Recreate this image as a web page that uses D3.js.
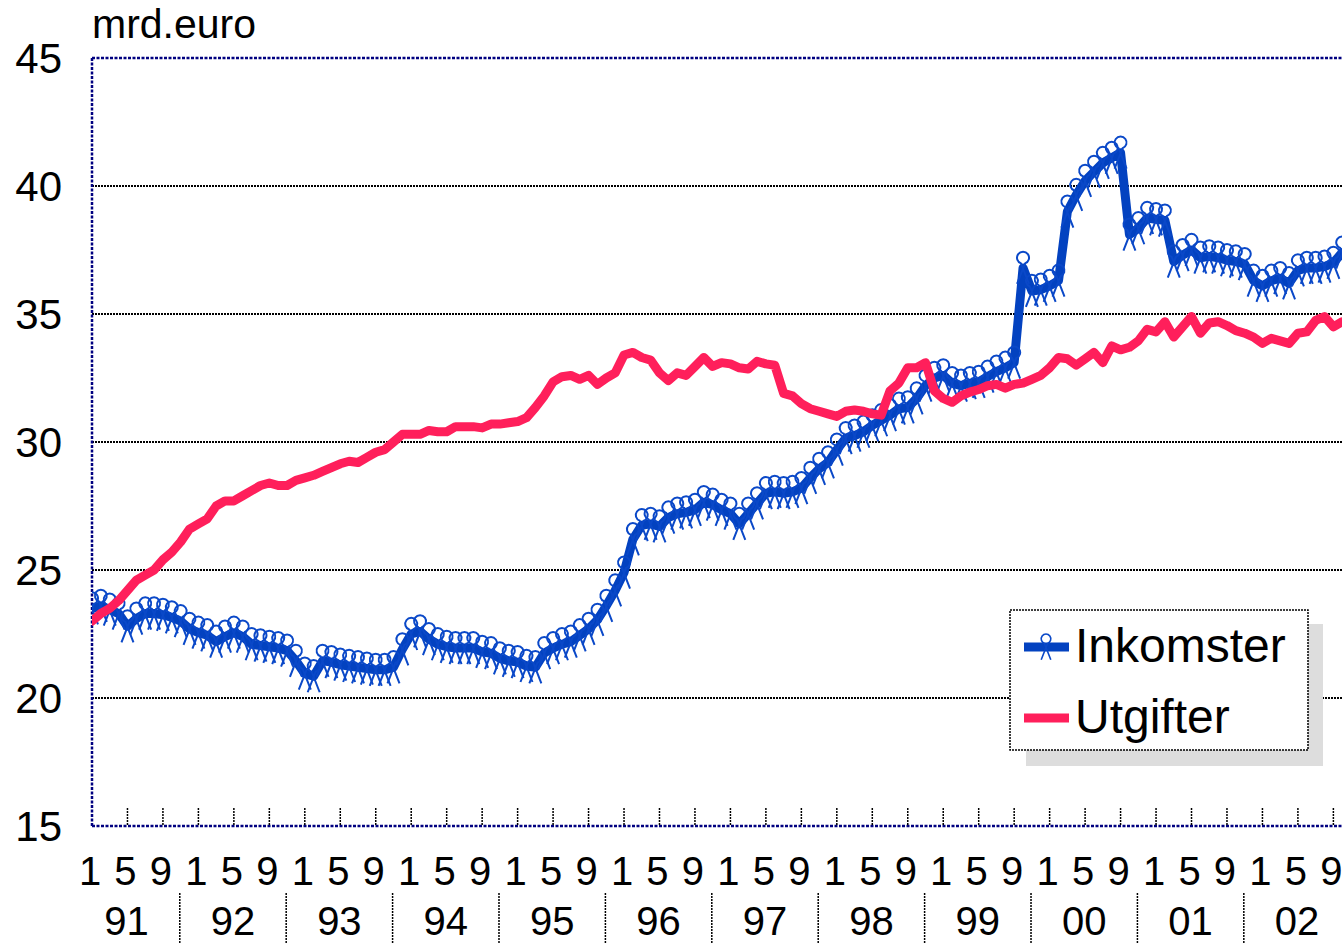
<!DOCTYPE html>
<html>
<head>
<meta charset="utf-8">
<script src="https://cdn.jsdelivr.net/npm/d3@7"></script>
<style>
  html, body { margin: 0; padding: 0; background: #ffffff; }
  svg { display: block; font-family: "Liberation Sans", Arial, sans-serif; }
</style>
</head>
<body>
<svg id="chart" width="1342" height="943"></svg>
<script>
// Monthly government income and expenditure, billion euro, Jan 1991 – Oct 2002
const years = ["91", "92", "93", "94", "95", "96", "97", "98", "99", "00", "01", "02"];
const monthTicks = ["1", "5", "9"];
const yTicks = [15, 20, 25, 30, 35, 40, 45];
const seriesNames = ["Inkomster", "Utgifter"];

const inkomster = [
  23.5, 23.6, 23.45, 23.3, 22.8, 23.1, 23.3, 23.3, 23.25, 23.15, 23.0, 22.7,
  22.55, 22.45, 22.2, 22.4, 22.55, 22.4, 22.1, 22.05, 22.0, 21.95, 21.85, 21.45,
  20.95, 20.85, 21.45, 21.4, 21.3, 21.25, 21.2, 21.15, 21.1, 21.1, 21.2, 21.9,
  22.5, 22.6, 22.3, 22.1, 22.0, 21.95, 21.95, 21.95, 21.8, 21.75, 21.55, 21.45,
  21.4, 21.25, 21.2, 21.75, 21.95, 22.1, 22.2, 22.45, 22.7, 23.05, 23.6, 24.2,
  24.9, 26.2, 26.75, 26.8, 26.7, 27.05, 27.2, 27.25, 27.35, 27.65, 27.55, 27.35,
  27.2, 26.8, 27.2, 27.6, 28.0, 28.05, 28.0, 28.05, 28.2, 28.6, 28.95, 29.2,
  29.7, 30.15, 30.25, 30.4, 30.65, 30.85, 31.05, 31.3, 31.35, 31.7, 32.2, 32.5,
  32.6, 32.3, 32.2, 32.3, 32.35, 32.55, 32.75, 32.9, 33.1, 36.8, 35.9, 35.95,
  36.1, 36.3, 39.0, 39.65, 40.2, 40.55, 40.9, 41.1, 41.3, 38.1, 38.35, 38.75,
  38.7, 38.65, 37.05, 37.3, 37.5, 37.2, 37.25, 37.2, 37.1, 37.05, 36.95, 36.3,
  36.1, 36.3, 36.4, 36.2, 36.7, 36.8, 36.8, 36.85, 37.0, 37.4
];

const utgifter = [
  23.0, 23.3, 23.5, 23.8, 24.2, 24.6, 24.8, 25.0, 25.4, 25.7, 26.1, 26.6,
  26.8, 27.0, 27.5, 27.7, 27.7, 27.9, 28.1, 28.3, 28.4, 28.3, 28.3, 28.5,
  28.6, 28.7, 28.85, 29.0, 29.15, 29.25, 29.2, 29.4, 29.6, 29.7, 30.0, 30.3,
  30.3, 30.3, 30.45, 30.4, 30.4, 30.6, 30.6, 30.6, 30.55, 30.7, 30.7, 30.75,
  30.8, 30.95, 31.35, 31.8, 32.35, 32.55, 32.6, 32.45, 32.6, 32.25, 32.5, 32.7,
  33.4, 33.5, 33.3, 33.2, 32.7, 32.4, 32.7, 32.6, 32.95, 33.3, 32.95, 33.1,
  33.05, 32.9, 32.85, 33.15, 33.05, 33.0, 31.9, 31.8, 31.5, 31.3, 31.2, 31.1,
  31.0, 31.2, 31.25, 31.2, 31.1, 31.05, 32.0, 32.3, 32.9, 32.9, 33.1, 32.0,
  31.7, 31.55, 31.8, 31.95, 32.05, 32.2, 32.25, 32.1, 32.25, 32.3, 32.45, 32.6,
  32.9, 33.3, 33.25, 33.0, 33.25, 33.5, 33.1, 33.75, 33.6, 33.7, 33.95, 34.4,
  34.3, 34.7, 34.1, 34.5, 34.9, 34.25, 34.65, 34.7, 34.55, 34.35, 34.25, 34.1,
  33.85, 34.05, 33.95, 33.85, 34.25, 34.3, 34.75, 34.9, 34.5, 34.7
];

const BLUE = "#0342c0";
const BLUE_MARK = "#0a48c8";
const RED = "#ff1f5b";
const NAVY = "#000080";

const svg = d3.select("#chart");
const W = 1342, H = 943;
const plotLeft = 92, plotTop = 58, plotBottom = 826;
const monthStep = 8.867;

svg.append("rect").attr("width", W).attr("height", H).attr("fill", "#fff");

const x = d3.scaleLinear().domain([0, 141]).range([plotLeft, plotLeft + 141 * monthStep]);
const y = d3.scaleLinear().domain([15, 45]).range([plotBottom, plotTop]);

// Horizontal gridlines
svg.append("g").selectAll("line")
  .data(yTicks.filter(v => v > 15 && v < 45))
  .join("line")
  .attr("x1", plotLeft).attr("x2", W)
  .attr("y1", d => y(d)).attr("y2", d => y(d))
  .attr("stroke", "#000").attr("stroke-width", 2)
  .attr("stroke-dasharray", "2,1");

// Plot frame: top and left edges, category axis along the bottom
const frame = svg.append("g").attr("stroke", NAVY).attr("stroke-width", 2.5)
  .attr("stroke-dasharray", "3,1.5").attr("fill", "none");
frame.append("line").attr("x1", plotLeft).attr("x2", W).attr("y1", y(45)).attr("y2", y(45));
frame.append("line").attr("x1", plotLeft).attr("x2", plotLeft).attr("y1", y(45)).attr("y2", y(15));
frame.append("line").attr("x1", plotLeft).attr("x2", W).attr("y1", y(15)).attr("y2", y(15));

// Value axis labels
svg.append("g").selectAll("text")
  .data(yTicks)
  .join("text")
  .attr("x", 62).attr("y", d => y(d) + 15)
  .attr("text-anchor", "end")
  .attr("font-size", 42)
  .attr("fill", "#000")
  .text(d => d);

svg.append("text")
  .attr("x", 92).attr("y", 38)
  .attr("font-size", 41)
  .attr("fill", "#000")
  .text("mrd.euro");

// Category axis: a tick every four months, month numbers and year groups
const tickIdx = d3.range(4, 142, 4);
svg.append("g").selectAll("line")
  .data(tickIdx)
  .join("line")
  .attr("x1", d => x(d)).attr("x2", d => x(d))
  .attr("y1", 808).attr("y2", plotBottom)
  .attr("stroke", "#000").attr("stroke-width", 1.5)
  .attr("stroke-dasharray", "2,1");

const monthLabelData = [];
years.forEach((yr, k) => {
  monthTicks.forEach((m, j) => monthLabelData.push({ idx: k * 12 + j * 4, label: m }));
});
svg.append("g").selectAll("text")
  .data(monthLabelData)
  .join("text")
  .attr("x", d => x(d.idx) - 2).attr("y", 885)
  .attr("text-anchor", "middle")
  .attr("font-size", 40)
  .attr("fill", "#000")
  .text(d => d.label);

svg.append("g").selectAll("text")
  .data(years)
  .join("text")
  .attr("x", (d, k) => x(k * 12 + 3.9)).attr("y", 935)
  .attr("text-anchor", "middle")
  .attr("font-size", 40)
  .attr("fill", "#000")
  .text(d => d);

svg.append("g").selectAll("line")
  .data(years.slice(1))
  .join("line")
  .attr("x1", (d, k) => x(k * 12 + 9.9)).attr("x2", (d, k) => x(k * 12 + 9.9))
  .attr("y1", 893).attr("y2", H)
  .attr("stroke", "#000").attr("stroke-width", 1.5)
  .attr("stroke-dasharray", "2,1");

// Series
svg.append("defs").append("clipPath").attr("id", "plot-clip")
  .append("rect").attr("x", plotLeft).attr("y", plotTop - 30)
  .attr("width", W - plotLeft).attr("height", plotBottom - plotTop + 30);

const plot = svg.append("g").attr("clip-path", "url(#plot-clip)");
const line = d3.line().x((d, i) => x(i)).y(d => y(d));

// loop-and-cross marker glyph, centred on the data point
const markerPath = "M-6,16 L2,-4.5 A6,6 0 1,0 -2,-4.5 L6,16";

plot.append("path")
  .datum(inkomster)
  .attr("d", line)
  .attr("fill", "none").attr("stroke", BLUE).attr("stroke-width", 9)
  .attr("stroke-linejoin", "round").attr("stroke-linecap", "round");

plot.append("g").selectAll("path")
  .data(inkomster)
  .join("path")
  .attr("transform", (d, i) => `translate(${x(i)},${y(d)})`)
  .attr("d", markerPath)
  .attr("fill", "none").attr("stroke", BLUE_MARK).attr("stroke-width", 2);

plot.append("path")
  .datum(utgifter)
  .attr("d", line)
  .attr("fill", "none").attr("stroke", RED).attr("stroke-width", 9)
  .attr("stroke-linejoin", "round").attr("stroke-linecap", "round");

// Legend with drop shadow
const lg = svg.append("g");
lg.append("rect").attr("x", 1026).attr("y", 624).attr("width", 297).attr("height", 142).attr("fill", "#dddddd");
lg.append("rect").attr("x", 1010).attr("y", 610).attr("width", 298).attr("height", 140)
  .attr("fill", "#fff").attr("stroke", "#000").attr("stroke-width", 1.5).attr("stroke-dasharray", "2,1");

const legendRows = [
  { name: seriesNames[0], color: BLUE, y: 647, marker: true },
  { name: seriesNames[1], color: RED, y: 718, marker: false }
];
legendRows.forEach(r => {
  lg.append("line").attr("x1", 1024).attr("x2", 1069).attr("y1", r.y).attr("y2", r.y)
    .attr("stroke", r.color).attr("stroke-width", 9);
  if (r.marker) {
    lg.append("path").attr("d", markerPath).attr("transform", `translate(1046,${r.y}) scale(0.8)`)
      .attr("fill", "none").attr("stroke", BLUE_MARK).attr("stroke-width", 2);
  }
  lg.append("text").attr("x", 1075).attr("y", r.y + 15)
    .attr("font-size", 48).attr("fill", "#000").text(r.name);
});
</script>
</body>
</html>
